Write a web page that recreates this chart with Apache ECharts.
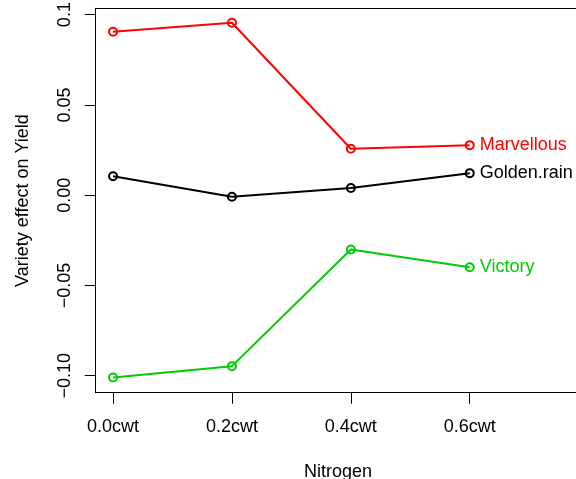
<!DOCTYPE html>
<html>
<head>
<meta charset="utf-8">
<script src="https://cdn.jsdelivr.net/npm/echarts@6/dist/echarts.min.js"></script>
<style>
html,body{margin:0;padding:0;background:#fff;}
#chart{width:576px;height:479px;}
</style>
</head>
<body>
<div id="chart"></div>
<script>
var nitrogenLabels = ["0.0cwt", "0.2cwt", "0.4cwt", "0.6cwt"];
var nitrogenPos = [1, 2, 3, 4];
var varieties = ["Marvellous", "Golden.rain", "Victory"];
var marvellous = [0.0905, 0.0955, 0.0257, 0.0277];
var goldenRain = [0.0105, -0.0009, 0.0040, 0.0122];
var victory = [-0.1010, -0.0947, -0.0301, -0.0399];
var yTickValues = [-0.1, -0.05, 0, 0.05, 0.1];
var yTickLabels = ["\u22120.10", "\u22120.05", "0.00", "0.05", "0.1"];
var colors = ["#ff0000", "#000000", "#00cd00"];

var seriesValues = [marvellous, goldenRain, victory];
var font = "'Liberation Sans', Arial, Helvetica, sans-serif";

function makeSeries(i) {
  var pts = nitrogenPos.map(function (x, j) { return [x, seriesValues[i][j]]; });
  return {
    name: varieties[i],
    type: 'line',
    data: pts,
    symbol: 'circle',
    symbolSize: 8,
    lineStyle: { color: colors[i], width: 2 },
    itemStyle: { color: 'rgba(0,0,0,0)', borderColor: colors[i], borderWidth: 2 },
    endLabel: {
      show: true,
      formatter: '{a}',
      color: colors[i],
      fontSize: 18,
      fontFamily: font,
      distance: 10
    },
    emphasis: { disabled: true },
    z: 3
  };
}

var chart = echarts.init(document.getElementById('chart'), null, { renderer: 'canvas' });
chart.setOption({
  animation: false,
  backgroundColor: '#ffffff',
  grid: {
    left: 95.7, top: 8.3, width: 484.6, height: 384.4,
    outerBoundsMode: 'none',
    containLabel: false,
    show: false
  },
  xAxis: [{
    type: 'value',
    min: 0.854, max: 4.93,
    name: 'Nitrogen',
    nameLocation: 'middle',
    nameGap: 70,
    nameTextStyle: { fontSize: 18, fontFamily: font, color: '#000' },
    axisLine: { show: true, onZero: false, lineStyle: { color: '#000', width: 1 } },
    axisTick: { show: true, customValues: nitrogenPos, length: 11, lineStyle: { color: '#000', width: 1 } },
    axisLabel: {
      customValues: nitrogenPos,
      formatter: function (v) { return nitrogenLabels[nitrogenPos.indexOf(v)]; },
      fontSize: 18, fontFamily: font, color: '#000', margin: 25
    },
    splitLine: { show: false }
  }, {
    type: 'value',
    position: 'top',
    min: 0.854, max: 4.93,
    axisLine: { show: true, onZero: false, lineStyle: { color: '#000', width: 1 } },
    axisTick: { show: false },
    axisLabel: { show: false },
    splitLine: { show: false }
  }],
  yAxis: {
    type: 'value',
    min: -0.1094, max: 0.1035,
    name: 'Variety effect on Yield',
    nameLocation: 'middle',
    nameRotate: 90,
    nameGap: 64,
    nameTextStyle: { fontSize: 18, fontFamily: font, color: '#000' },
    axisLine: { show: true, onZero: false, lineStyle: { color: '#000', width: 1 } },
    axisTick: { show: true, customValues: yTickValues, length: 11, lineStyle: { color: '#000', width: 1 } },
    axisLabel: {
      customValues: yTickValues,
      rotate: 90,
      formatter: function (v) {
        for (var k = 0; k < yTickValues.length; k++) {
          if (Math.abs(yTickValues[k] - v) < 1e-9) return yTickLabels[k];
        }
        return '';
      },
      fontSize: 18, fontFamily: font, color: '#000', margin: 22
    },
    splitLine: { show: false }
  },
  series: [makeSeries(0), makeSeries(1), makeSeries(2)]
});
</script>
</body>
</html>
